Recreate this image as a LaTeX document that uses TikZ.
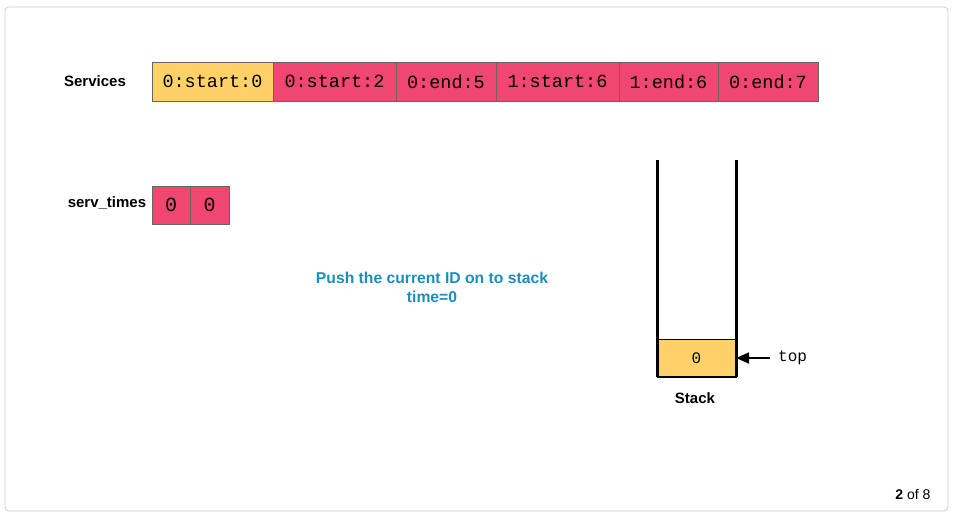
\documentclass[tikz,border=0pt]{standalone}
\usepackage{fontspec}
\setmainfont{Liberation Sans}
\newfontfamily\monofont{Liberation Mono}
\usetikzlibrary{arrows.meta}
\definecolor{cyel}{HTML}{FFD166}
\definecolor{cred}{HTML}{EF476F}
\definecolor{cblue}{HTML}{1B8EBD}
\definecolor{cbord}{HTML}{666666}
\tikzset{
  cell/.style={draw=cbord, line width=0.8pt, minimum height=39pt, inner sep=0pt, outer sep=0pt, anchor=north west, font=\monofont\fontsize{18.5}{18.5}\selectfont},
  lbl/.style={font=\bfseries\fontsize{15}{15}\selectfont, inner sep=0pt},
}
\begin{document}
\begin{tikzpicture}[x=1pt,y=-1pt]
\useasboundingbox (0,0) rectangle (954,517);
\draw[draw=black!20, line width=0.8pt, rounded corners=4pt] (5,7) rectangle (948,511);
\node[lbl] (services) at (95,81) {Services};
\node[cell, fill=cyel, minimum width=121pt] (s1) at (152,62) {0:start:0};
\node[cell, fill=cred, minimum width=123pt] (s2) at (s1.north east) {0:start:2};
\node[cell, fill=cred, minimum width=100pt] (s3) at (s2.north east) {0:end:5};
\node[cell, fill=cred, minimum width=123pt] (s4) at (s3.north east) {1:start:6};
\node[cell, fill=cred, minimum width=99pt] (s5) at (s4.north east) {1:end:6};
\node[cell, fill=cred, minimum width=100pt] (s6) at (s5.north east) {0:end:7};
\node[lbl] (servt) at (107,203) {serv\_times};
\node[cell, fill=cred, minimum width=38pt, minimum height=38pt, font=\monofont\fontsize{20}{20}\selectfont] (t1) at (152,186) {0};
\node[cell, fill=cred, minimum width=39pt, minimum height=38pt, font=\monofont\fontsize{20}{20}\selectfont] (t2) at (t1.north east) {0};
\node[font=\bfseries\fontsize{15.7}{19}\selectfont, text=cblue, align=center] (msg) at (432,287) {Push the current ID on to stack\\time=0};
\node[draw=black, line width=1pt, fill=cyel, minimum width=79pt, minimum height=38pt, inner sep=0pt, outer sep=0pt, anchor=north west, font=\monofont\fontsize{16}{16}\selectfont] (st0) at (657,339) {0};
\coordinate (lt) at (657,160);
\coordinate (rt) at (736,160);
\draw[line width=3pt] (lt) -- (st0.south west);
\draw[line width=3pt] (rt) -- (st0.south east);
\draw[line width=1.2pt] (st0.south west) -- (st0.south east);
\node[font=\monofont\fontsize{16}{16}\selectfont, anchor=west, inner sep=0pt] (top) at (778,358) {top};
\coordinate (arrstart) at (770,358);
\draw[-{Triangle[length=13pt,width=11pt]}, line width=1.5pt] (arrstart) -- (st0.east);
\node[lbl] (stack) at (695,398) {Stack};
\node[font=\fontsize{14}{14}\selectfont, inner sep=0pt] (page) at (913,494) {\textbf{2} of 8};
\end{tikzpicture}
\end{document}
